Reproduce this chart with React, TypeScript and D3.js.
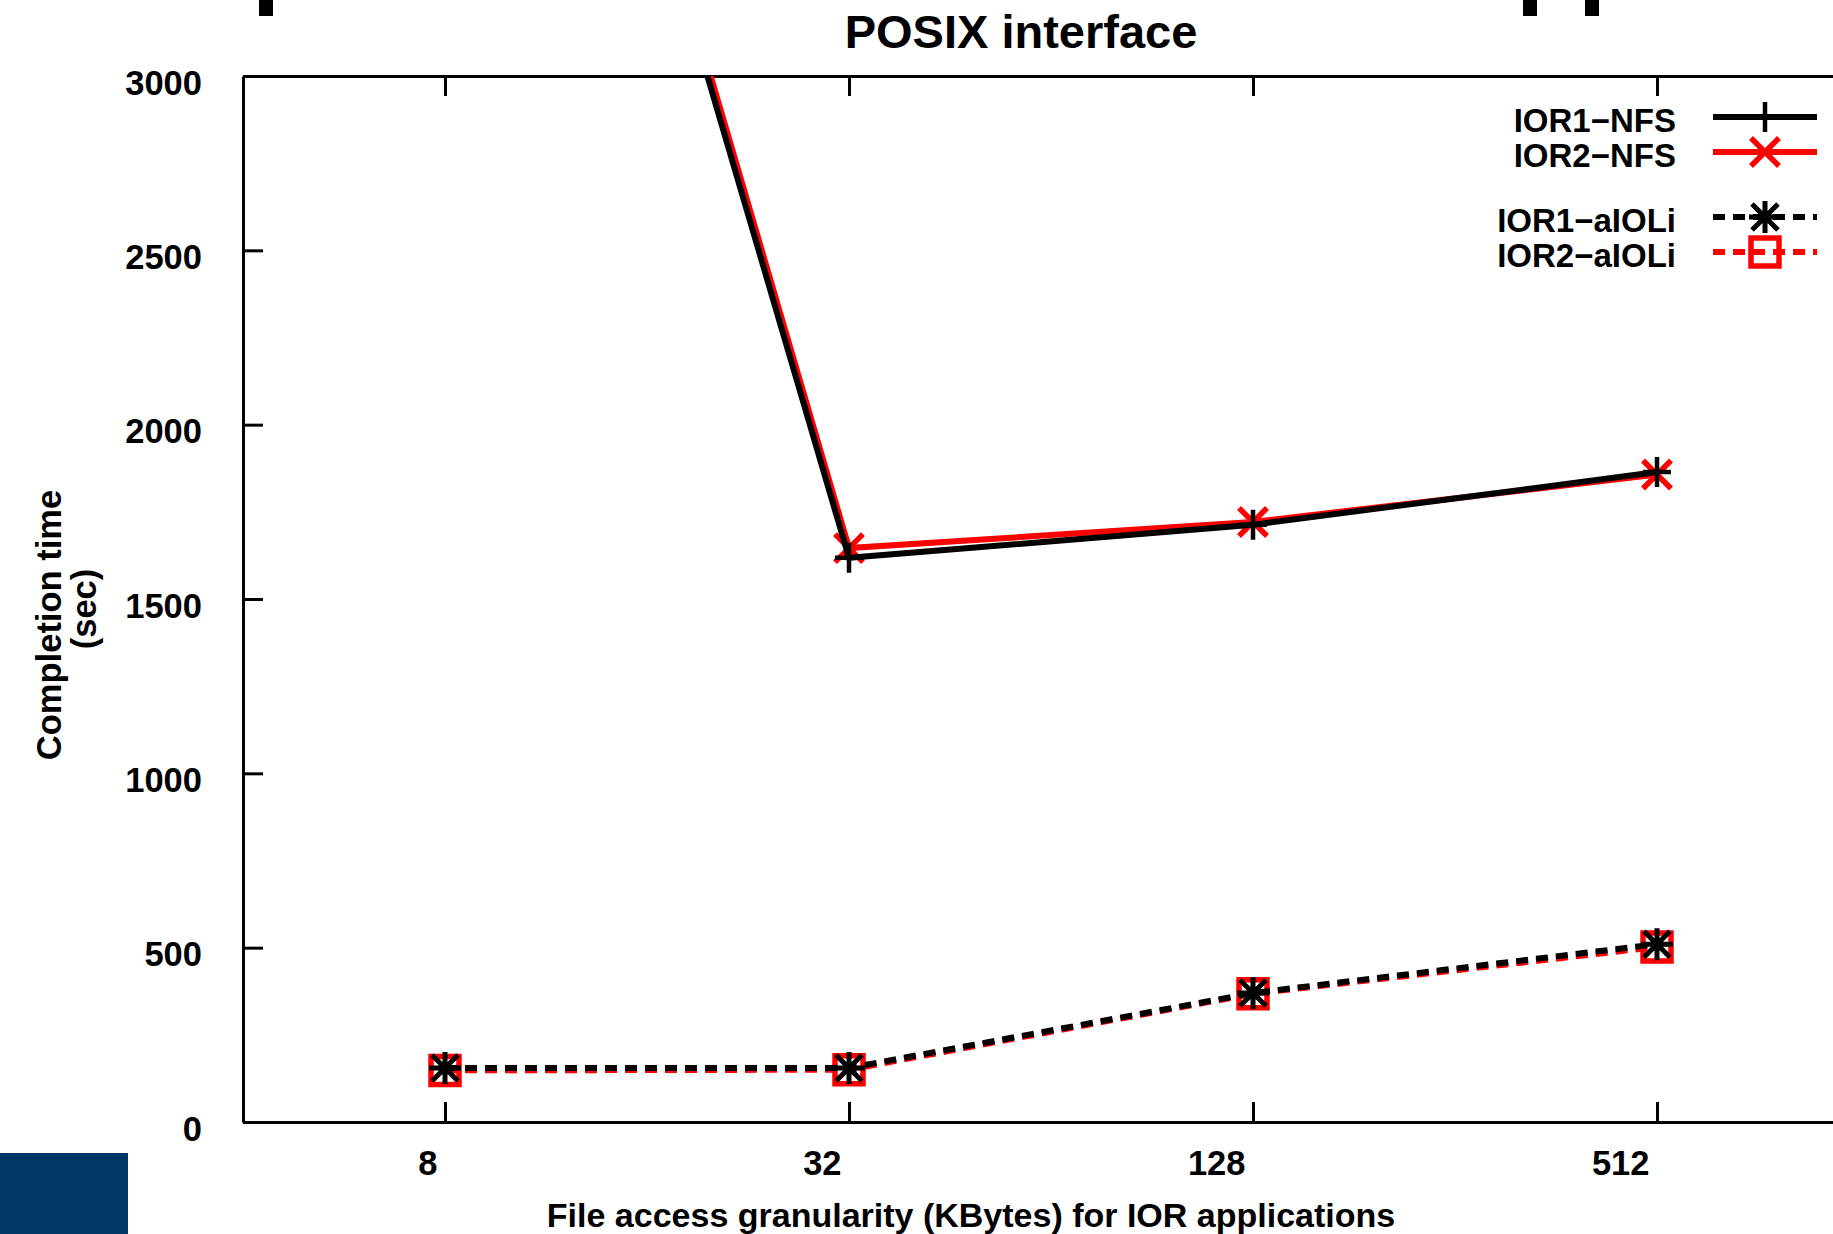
import * as d3 from "d3";
import React, { useEffect, useRef } from "react";

// Valeurs (temps en secondes)
const sizes = [8, 32, 128, 512];
const ior1Nfs = [5560, 1618, 1713, 1864];
const ior2Nfs = [5600, 1646, 1721, 1857];
const ior1Aioli = [155, 155, 370, 510];
const ior2Aioli = [148, 150, 368, 502];
const yTicks = [0, 500, 1000, 1500, 2000, 2500, 3000];
const seriesNames = ["IOR1−NFS", "IOR2−NFS", "IOR1−aIOLi", "IOR2−aIOLi"];

const W = 1833;
const H = 1234;

export default function App() {
  const ref = useRef<SVGSVGElement>(null);

  useEffect(() => {
    const svg = d3.select(ref.current);
    svg.selectAll("*").remove();

    const font = "'Liberation Sans', Arial, Helvetica, sans-serif";
    const fs = 34.5;
    const left = 243;
    const top = 76;
    const bottom = 1122;

    const x = d3.scaleLog().base(2).domain([4, 1024]).range([left, left + 8 * 202]);
    const y = d3.scaleLinear().domain([0, 3000]).range([bottom, top]);

    svg.append("rect").attr("width", W).attr("height", H).attr("fill", "white");

    // bouts de la diapo coupée
    svg.append("rect").attr("x", 0).attr("y", 1153).attr("width", 128).attr("height", 81).attr("fill", "#023665");
    [259, 1523, 1585].forEach((px) =>
      svg.append("rect").attr("x", px).attr("y", 0).attr("width", 14).attr("height", 16).attr("fill", "black")
    );

    svg
      .append("defs")
      .append("clipPath")
      .attr("id", "plot-clip")
      .append("rect")
      .attr("x", left)
      .attr("y", top)
      .attr("width", W - left)
      .attr("height", bottom - top);

    // Axes
    const styleAxis = (g) => {
      g.select(".domain").attr("stroke-width", 3);
      g.selectAll(".tick line").attr("stroke-width", 3);
      g.selectAll("text").attr("font-family", font).attr("font-weight", "bold").attr("font-size", fs).attr("fill", "black");
    };

    svg
      .append("g")
      .attr("transform", `translate(${left},0)`)
      .call(d3.axisLeft(y).tickValues(yTicks).tickSize(-20).tickSizeOuter(0).tickPadding(41).tickFormat(d3.format("d")))
      .call(styleAxis)
      .call((g) => g.selectAll("text").attr("dy", 18));

    svg
      .append("g")
      .attr("transform", `translate(0,${bottom})`)
      .call(d3.axisBottom(x).tickValues(sizes).tickSize(-20).tickSizeOuter(0).tickFormat(d3.format("d")))
      .call(styleAxis)
      .call((g) => g.selectAll("text").attr("y", 53).attr("dy", 0).attr("dx", -8).attr("text-anchor", "end"));

    svg
      .append("g")
      .attr("transform", `translate(0,${top})`)
      .call(d3.axisTop(x).tickValues(sizes).tickSize(-20).tickSizeOuter(0).tickFormat(() => ""))
      .call(styleAxis);

    // Titres
    const txt = (s, tx, ty, extra = "") =>
      svg
        .append("text")
        .attr("transform", `translate(${tx},${ty}) ${extra}`)
        .attr("text-anchor", "middle")
        .attr("font-family", font)
        .attr("font-weight", "bold")
        .attr("font-size", fs)
        .text(s);
    txt("POSIX interface", 1021, 48).attr("font-size", 47);
    txt("File access granularity (KBytes) for IOR applications", 971, 1227).attr("font-size", 34);
    txt("Completion time", 61, 625, "rotate(-90)");
    txt("(sec)", 96, 609, "rotate(-90)");

    // Symboles
    const markers = {
      plus: "M-14,0H14M0,-15V15",
      cross: "M-14,-14L14,14M-14,14L14,-14",
      star: "M-16,0H16M0,-16V16M-13,-13L13,13M-13,13L13,-13",
      square: "M-14,-14H14V14H-14Z",
    };

    const series = [
      { name: seriesNames[0], values: ior1Nfs, color: "black", dash: null, marker: markers.plus, mw: 4.5, row: 0 },
      { name: seriesNames[1], values: ior2Nfs, color: "red", dash: null, marker: markers.cross, mw: 5.5, row: 1 },
      { name: seriesNames[2], values: ior1Aioli, color: "black", dash: "12 8", marker: markers.star, mw: 5, row: 2 },
      { name: seriesNames[3], values: ior2Aioli, color: "red", dash: "12 8", marker: markers.square, mw: 5.5, row: 3 },
    ];

    const line = d3
      .line<number>()
      .x((_, i) => x(sizes[i]))
      .y((d) => y(d));

    const plot = svg.append("g").attr("clip-path", "url(#plot-clip)");
    // rouge d'abord, le noir passe par-dessus
    const drawOrder = [series[1], series[0], series[3], series[2]];
    drawOrder.forEach((s) => {
      plot
        .append("path")
        .attr("d", line(s.values))
        .attr("fill", "none")
        .attr("stroke", s.color)
        .attr("stroke-width", 6)
        .attr("stroke-dasharray", s.dash);
      plot
        .append("g")
        .selectAll("path")
        .data(s.values)
        .join("path")
        .attr("transform", (d, i) => `translate(${x(sizes[i])},${y(d)})`)
        .attr("d", s.marker)
        .attr("fill", "none")
        .attr("stroke", s.color)
        .attr("stroke-width", s.mw);
    });

    // Légende
    const legendBase = [132, 167, 232, 267];
    const legend = svg.append("g");
    series.forEach((s) => {
      const by = legendBase[s.row];
      legend
        .append("text")
        .attr("x", 1676)
        .attr("y", by)
        .attr("text-anchor", "end")
        .attr("font-family", font)
        .attr("font-weight", "bold")
        .attr("font-size", 33)
        .text(s.name);
      legend
        .append("line")
        .attr("x1", 1713)
        .attr("x2", 1817)
        .attr("y1", by - 15)
        .attr("y2", by - 15)
        .attr("stroke", s.color)
        .attr("stroke-width", 6)
        .attr("stroke-dasharray", s.dash);
      legend
        .append("path")
        .attr("transform", `translate(1765,${by - 15})`)
        .attr("d", s.marker)
        .attr("fill", "none")
        .attr("stroke", s.color)
        .attr("stroke-width", s.mw);
    });
  }, []);

  return <svg ref={ref} width={W} height={H} style={{ position: "absolute", left: 0, top: 0 }}></svg>;
}
